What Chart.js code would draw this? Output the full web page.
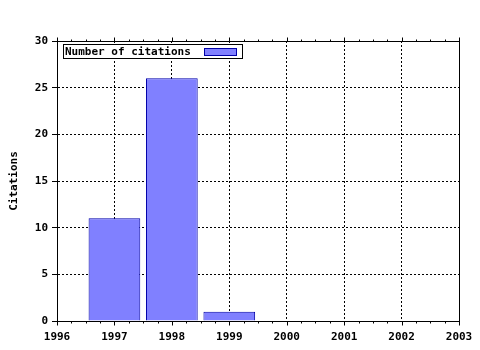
<!DOCTYPE html>
<html>
<head>
<meta charset="utf-8">
<script src="https://cdn.jsdelivr.net/npm/chart.js@4"></script>
<style>
  html, body { margin: 0; padding: 0; background: #fff; }
  #wrap { width: 480px; height: 350px; }
</style>
</head>
<body>
<div id="wrap"><canvas id="chart" width="480" height="350"></canvas></div>
<script>
const years = [1997, 1998, 1999]
const citations = [11, 26, 1]
const seriesLabel = 'Number of citations'
const yTitle = 'Citations'

const FONT = { family: '"DejaVu Sans Mono", monospace', size: 11, weight: 'bold' }

// frame round the plot, minor ticks, legend box inside it
const framePlugin = {
  id: 'frame',
  afterDraw (chart) {
    const { ctx, chartArea: a } = chart
    const xs = chart.scales.x
    const L = Math.round(a.left) + 0.5
    const R = Math.round(a.right) + 0.5
    const T = Math.round(a.top) + 0.5
    const B = Math.round(a.bottom) + 0.5
    ctx.save()
    ctx.strokeStyle = '#000'
    ctx.lineWidth = 1
    ctx.setLineDash([])
    ctx.strokeRect(L, T, R - L, B - T)

    // ticks on the x axes (bottom and top), quarter-year minor
    ctx.beginPath()
    for (let v = xs.min; v <= xs.max + 1e-9; v += 0.25) {
      const px = Math.round(xs.getPixelForValue(v)) + 0.5
      const major = Math.abs(v - Math.round(v)) < 1e-6
      const len = major ? 4 : 2
      ctx.moveTo(px, B); ctx.lineTo(px, B + len)
      ctx.moveTo(px, T); ctx.lineTo(px, T - len)
    }
    ctx.stroke()

    const ds = chart.data.datasets[0]
    ctx.font = `${FONT.weight} ${FONT.size}px ${FONT.family}`
    const tw = ctx.measureText(ds.label).width
    const x = Math.round(a.left) + 6
    const y = Math.round(a.top) + 3
    const w = Math.round(tw) + 53
    ctx.fillStyle = '#fff'
    ctx.fillRect(x, y, w, 14)
    ctx.strokeRect(x + 0.5, y + 0.5, w, 14)
    ctx.fillStyle = '#000'
    ctx.textBaseline = 'middle'
    ctx.fillText(ds.label, x + 2, y + 8)
    ctx.fillStyle = ds.backgroundColor
    ctx.fillRect(x + w - 38, y + 4, 32, 7)
    ctx.strokeStyle = ds.borderColor
    ctx.strokeRect(x + w - 38 + 0.5, y + 4.5, 32, 7)
    ctx.restore()
  }
}

new Chart(document.getElementById('chart'), {
  type: 'bar',
  data: {
    datasets: [{
      label: seriesLabel,
      data: years.map((y, i) => ({ x: y, y: citations[i] })),
      backgroundColor: '#8080ff',
      borderColor: '#0000a8',
      borderWidth: 1,
      barPercentage: 0.9,
      categoryPercentage: 1
    }]
  },
  options: {
    responsive: false,
    animation: false,
    layout: { padding: { left: 0, top: 41, right: 21, bottom: 0 } },
    plugins: { legend: { display: false }, tooltip: { enabled: false } },
    scales: {
      x: {
        type: 'linear',
        offset: false,
        min: 1996,
        max: 2003,
        afterFit (s) { s.height = 29; s.paddingLeft = 0; s.paddingRight = 0 },
        ticks: { stepSize: 1, color: '#000', font: FONT, padding: 10, maxRotation: 0, callback: v => String(v) },
        grid: { color: '#000', drawTicks: false, offset: false },
        border: { color: '#000', dash: [2, 2] }
      },
      y: {
        min: 0,
        max: 30,
        afterFit (s) { s.width = 57; s.paddingTop = 0; s.paddingBottom = 0 },
        ticks: { stepSize: 5, color: '#000', font: FONT, padding: 4 },
        grid: { color: '#000', tickLength: 5, tickColor: '#000', tickBorderDash: [] },
        border: { color: '#000', dash: [2, 2] },
        title: { display: true, text: yTitle, color: '#000', font: FONT, padding: { top: 8, bottom: 0 } }
      }
    }
  },
  plugins: [framePlugin]
})
</script>
</body>
</html>
